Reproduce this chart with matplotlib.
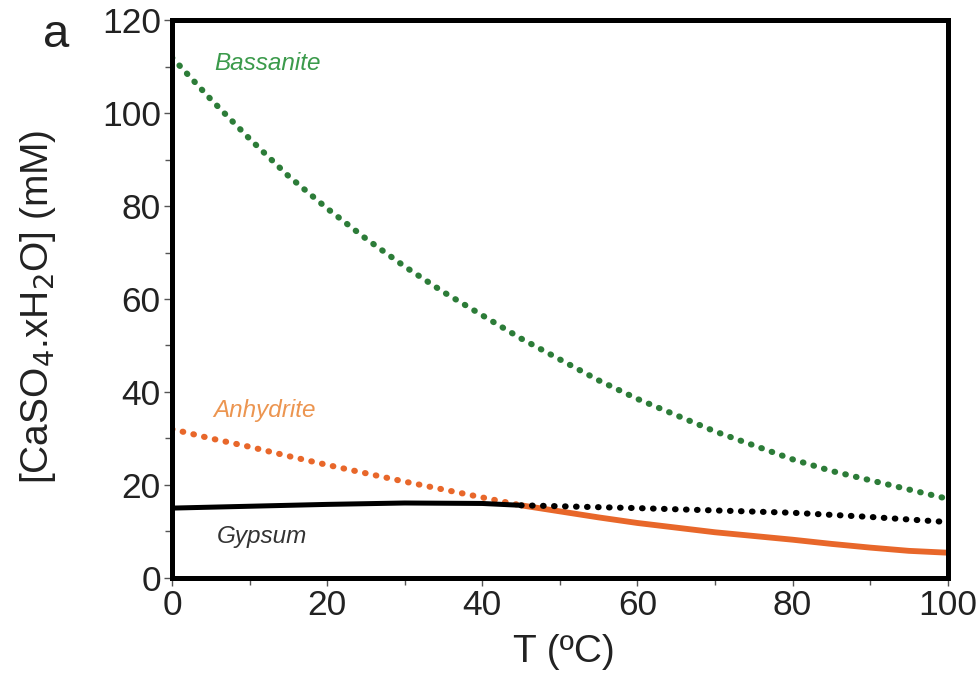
import matplotlib
matplotlib.use("Agg")
import matplotlib.pyplot as plt
from matplotlib.ticker import MultipleLocator

plt.rcParams['font.family'] = ['Liberation Sans', 'DejaVu Sans']

# Solubility of calcium sulfate phases vs temperature
T = [0, 5, 10, 15, 20, 25, 30, 35, 40, 45, 50, 55, 60, 65, 70, 75, 80, 85, 90, 95, 100]
bassanite = [112, 103, 94.5, 86.5, 79.5, 73, 67, 61.5, 56.5, 51.5, 47, 42.5, 38.5,
             35, 31.5, 28.5, 25.5, 23, 21, 19, 17]

T_anh_meta = [0, 5, 10, 15, 20, 25, 30, 35, 40, 45]
anhydrite_meta = [32, 30, 28.2, 26.2, 24.3, 22.5, 20.7, 19, 17.3, 15.6]
T_anh_stable = [45, 50, 55, 60, 65, 70, 75, 80, 85, 90, 95, 100]
anhydrite_stable = [15.6, 14.3, 13, 11.8, 10.8, 9.8, 9, 8.2, 7.3, 6.5, 5.8, 5.4]

T_gyp_stable = [0, 10, 20, 30, 40, 45]
gypsum_stable = [15.0, 15.4, 15.8, 16.1, 16.0, 15.6]
T_gyp_meta = [45, 50, 60, 70, 80, 90, 100]
gypsum_meta = [15.6, 15.4, 15.0, 14.5, 14.0, 13.1, 12.0]

x_ticks = [0, 20, 40, 60, 80, 100]
y_ticks = [0, 20, 40, 60, 80, 100, 120]

green = '#2c7c38'
orange = '#e8672a'
dots = (0, (0.1, 1.7))

fig = plt.figure(figsize=(9.77, 6.75), dpi=100)
ax = fig.add_axes([0.176, 0.144, 0.794, 0.826])

ax.plot(T, bassanite, color=green, lw=4.4, linestyle=dots, dash_capstyle='round')
ax.plot(T_anh_meta, anhydrite_meta, color=orange, lw=4.4, linestyle=dots, dash_capstyle='round')
ax.plot(T_anh_stable, anhydrite_stable, color=orange, lw=4.2, solid_capstyle='butt')
ax.plot(T_gyp_stable, gypsum_stable, color='black', lw=3.6, solid_capstyle='butt')
ax.plot(T_gyp_meta, gypsum_meta, color='black', lw=4.4, linestyle=dots, dash_capstyle='round')

ax.text(5.5, 110.7, 'Bassanite', color='#3b9a4b', fontsize=17.5, style='italic',
        va='center', ha='left')
ax.text(5.3, 36.1, 'Anhydrite', color='#ec9550', fontsize=17.5, style='italic',
        va='center', ha='left')
ax.text(5.8, 8.8, 'Gypsum', color='#333333', fontsize=17.5, style='italic',
        va='center', ha='left')

ax.set_xlim(0, 100)
ax.set_ylim(0, 120)
ax.set_xticks(x_ticks)
ax.set_yticks(y_ticks)
ax.xaxis.set_minor_locator(MultipleLocator(10))
ax.yaxis.set_minor_locator(MultipleLocator(10))
ax.tick_params(which='both', direction='out', color='#555555', width=1.0,
               labelsize=25.5, labelcolor='#222222', pad=2)
ax.tick_params(which='major', length=6)
ax.tick_params(which='minor', length=5)

for s in ax.spines.values():
    s.set_linewidth(3.6)
    s.set_color('black')

ax.set_xlabel('T (ºC)', fontsize=28, color='#222222')
ax.xaxis.label.set_verticalalignment('center')
ax.xaxis.set_label_coords(0.505, -0.133)

ax.set_ylabel('[CaSO$_4$.xH$_2$O] (mM)', fontsize=28, color='#222222')
ax.yaxis.label.set_verticalalignment('center')
ax.yaxis.set_label_coords(-0.173, 0.486)

fig.text(0.057, 0.948, 'a', fontsize=34, color='#222222', va='center', ha='center')

fig.savefig('out.png', dpi=100)
